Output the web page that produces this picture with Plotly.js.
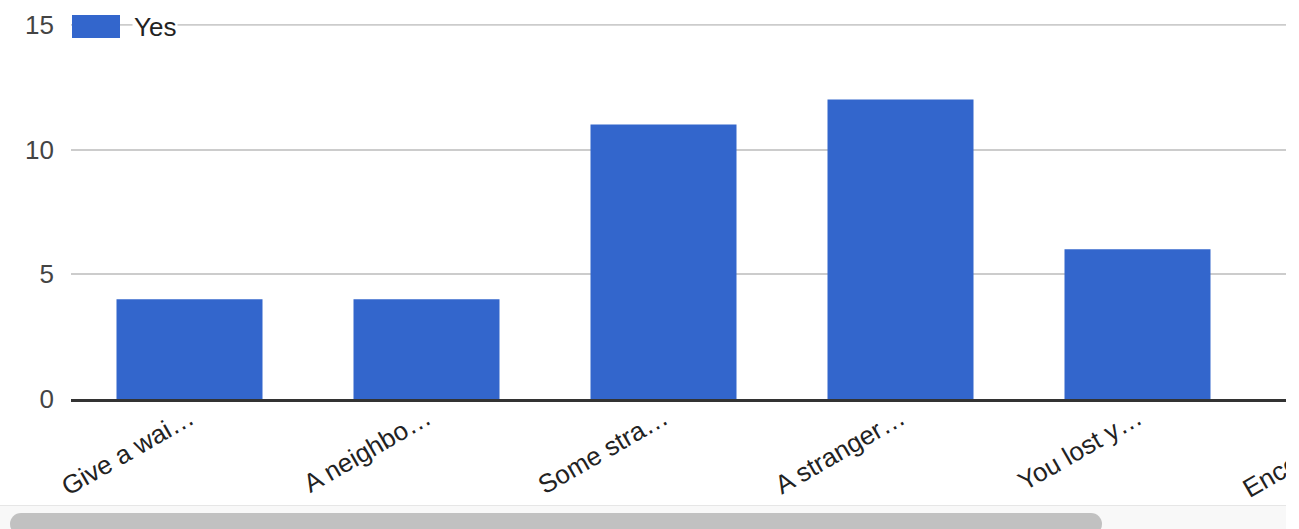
<!DOCTYPE html>
<html>
<head>
<meta charset="utf-8">
<script src="https://cdn.plot.ly/plotly-3.0.1.min.js"></script>
<style>
  html, body { margin: 0; padding: 0; background: #fff; }
  #wrap { position: relative; width: 1286px; height: 529px; overflow: hidden; }
  #chart { position: absolute; left: 0; top: 0; }
  #track { position: absolute; left: 0; top: 505px; width: 1286px; height: 24px;
           background: #f8f8f8; border-top: 1px solid #e6e6e6; box-sizing: border-box; }
  #thumb { position: absolute; left: 10px; top: 7px; width: 1092px; height: 22px;
           background: #c1c1c1; border-radius: 11px; }
</style>
</head>
<body>
<div id="wrap">
  <div id="chart"></div>
  <div id="track"><div id="thumb"></div></div>
</div>
<script>
// ---- data ----
const categories = ["Give a wai\u2026", "A neighbo\u2026", "Some stra\u2026", "A stranger\u2026", "You lost y\u2026", "Encourage\u2026"];
const yesValues = [4, 4, 11, 12, 6, 5];
const seriesName = "Yes";
const yTickValues = [0, 5, 10, 15];

// ---- layout geometry ----
const leftM = 71, slot = 237, plotW = slot * categories.length;
const totalW = leftM + plotW, totalH = 505, topM = 24, botM = 106;
const yMax = 15.03;
const px2paper = px => (px - leftM) / plotW;
const plotH = totalH - topM - botM;
const py2paper = py => 1 - (py - topM) / plotH;

const trace = {
  type: "bar",
  x: categories,
  y: yesValues,
  name: seriesName,
  marker: { color: "#3366cc" },
  showlegend: false,
  hoverinfo: "x+y"
};

const topTick = yTickValues[yTickValues.length - 1];

const layout = {
  width: totalW,
  height: totalH,
  margin: { l: leftM, r: 0, t: topM, b: botM, pad: 0 },
  paper_bgcolor: "#ffffff",
  plot_bgcolor: "#ffffff",
  bargap: 0.384,
  font: { family: "Liberation Sans, Arial, sans-serif", size: 26, color: "#444" },
  xaxis: {
    type: "category",
    tickangle: -30,
    tickfont: { size: 26, color: "#222" },
    showgrid: false,
    showline: true,
    linecolor: "#333",
    linewidth: 3,
    ticks: "",
    ticklabelstandoff: -9,
    automargin: false,
    fixedrange: true
  },
  yaxis: {
    range: [0, yMax],
    tickvals: yTickValues,
    ticktext: yTickValues.map(String),
    tickfont: { size: 26, color: "#444" },
    gridcolor: "#cccccc",
    gridwidth: 2,
    zeroline: false,
    showline: false,
    ticks: "",
    ticklabelstandoff: 16,
    automargin: false,
    fixedrange: true
  },
  shapes: [{
    type: "line", xref: "paper", yref: "y", layer: "below",
    x0: 0, x1: 1, y0: topTick, y1: topTick,
    line: { color: "#cccccc", width: 2 }
  }, {
    type: "rect", xref: "paper", yref: "paper", layer: "above",
    x0: px2paper(72), x1: px2paper(120), y0: py2paper(38), y1: py2paper(15),
    fillcolor: "#3366cc", line: { width: 0 }
  }],
  annotations: [{
    xref: "paper", yref: "paper",
    x: px2paper(132), y: py2paper(27),
    xanchor: "left", yanchor: "middle",
    text: seriesName, showarrow: false,
    font: { size: 26, color: "#222" },
    bgcolor: "#ffffff", borderpad: 1
  }]
};

Plotly.newPlot("chart", [trace], layout, { displayModeBar: false });
</script>
</body>
</html>
